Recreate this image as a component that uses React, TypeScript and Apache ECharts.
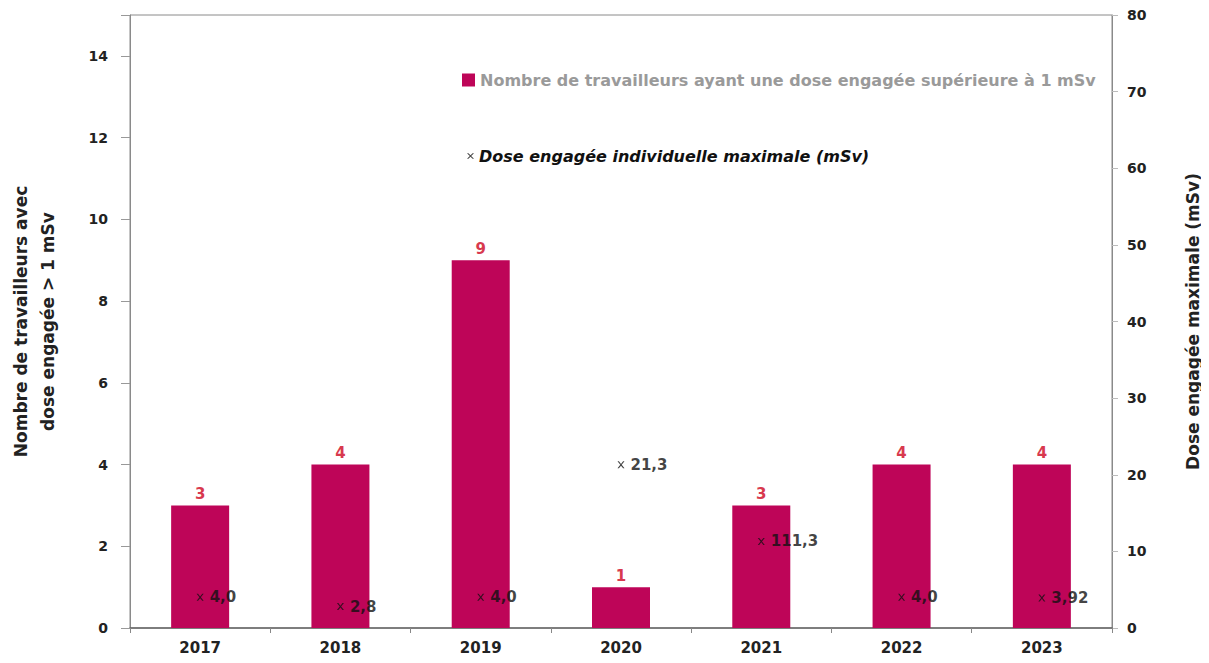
import React, { useEffect, useRef } from "react";
import * as echarts from "echarts";

const years = ["2017", "2018", "2019", "2020", "2021", "2022", "2023"];
const workers = [3, 4, 9, 1, 3, 4, 4];
const maxDose = [4.0, 2.8, 4.0, 21.3, 11.3, 4.0, 3.92];
const doseLabels = ["4,0", "2,8", "4,0", "21,3", "111,3", "4,0", "3,92"];
const leftTicks = [0, 2, 4, 6, 8, 10, 12, 14];

const barName = "Nombre de travailleurs ayant une dose engagée supérieure à 1 mSv";
const doseName = "Dose engagée individuelle maximale (mSv)";
const xPath = "path://M0,0L2,0L5,3L8,0L10,0L6,4L10,8L8,8L5,5L2,8L0,8L4,4Z";

export default function App() {
  const ref = useRef<HTMLDivElement>(null);
  useEffect(() => {
    if (!ref.current) return;
    const chart = echarts.init(ref.current, null, { renderer: "svg" });
    const font = "'DejaVu Sans', Verdana, sans-serif";
    chart.setOption({
      animation: false,
      textStyle: { fontFamily: font },
      grid: {
        left: 130,
        right: 97,
        top: 15,
        bottom: 35,
        show: true,
        borderColor: "#8a8a8a",
        borderWidth: 1,
        containLabel: false,
        outerBoundsMode: "none",
      },
      legend: [
        {
          data: [barName],
          left: 457,
          top: 67,
          icon: "rect",
          itemWidth: 13,
          itemHeight: 13,
          itemGap: 4,
          textStyle: { color: "#9a9a9a", fontWeight: "bold", fontSize: 16, fontFamily: font },
        },
        {
          data: [{ name: doseName, icon: xPath }],
          left: 462,
          top: 143,
          itemWidth: 7,
          itemHeight: 7,
          itemGap: 6,
          textStyle: {
            color: "#111",
            fontWeight: "bold",
            fontStyle: "italic",
            fontSize: 16,
            fontFamily: font,
          },
        },
      ],
      xAxis: {
        type: "category",
        data: years,
        axisLine: { lineStyle: { color: "#666", width: 1.5 } },
        axisTick: { show: true, length: 5, lineStyle: { color: "#888" } },
        axisLabel: { color: "#222", fontWeight: "bold", fontSize: 15, margin: 12, fontFamily: font },
      },
      yAxis: [
        {
          type: "value",
          min: 0,
          max: 15,
          interval: 2,
          name: "Nombre de travailleurs avec\ndose engagée > 1 mSv",
          nameLocation: "middle",
          nameGap: 69,
          nameTextStyle: { color: "#222", fontWeight: "bold", fontSize: 17, lineHeight: 27, fontFamily: font },
          axisLine: { show: true, lineStyle: { color: "#8a8a8a" } },
          axisTick: { show: true, length: 9, lineStyle: { color: "#999" } },
          splitLine: { show: false },
          axisLabel: {
            color: "#222",
            fontWeight: "bold",
            fontSize: 14,
            margin: 22,
            fontFamily: font,
            formatter: (v: number) => (leftTicks.includes(v) ? String(v) : ""),
          },
        },
        {
          type: "value",
          min: 0,
          max: 80,
          interval: 10,
          name: "Dose engagée maximale (mSv)",
          nameLocation: "middle",
          nameGap: 72,
          nameTextStyle: { color: "#222", fontWeight: "bold", fontSize: 17, fontFamily: font },
          axisLine: { show: true, lineStyle: { color: "#8a8a8a" } },
          axisTick: { show: true, length: 6, lineStyle: { color: "#bbb" } },
          splitLine: { show: false },
          axisLabel: { color: "#222", fontWeight: "bold", fontSize: 14, margin: 15, fontFamily: font },
        },
      ],
      series: [
        {
          name: barName,
          type: "bar",
          data: workers,
          yAxisIndex: 0,
          barWidth: 58,
          itemStyle: { color: "#BE0558" },
          label: {
            show: true,
            position: "top",
            color: "#D8394E",
            fontWeight: "bold",
            fontSize: 15,
            distance: 4,
            fontFamily: font,
          },
        },
        {
          name: doseName,
          type: "scatter",
          data: maxDose,
          yAxisIndex: 1,
          symbol: xPath,
          symbolSize: 7,
          itemStyle: { color: "#111" },
          label: {
            show: true,
            position: "right",
            distance: 6,
            color: "#111",
            fontWeight: "bold",
            fontSize: 15,
            fontFamily: font,
            formatter: (p: any) => doseLabels[p.dataIndex],
          },
        },
      ],
    });
    return () => chart.dispose();
  }, []);
  return <div ref={ref} style={{ width: 1209, height: 663, margin: -8 }} />;
}
